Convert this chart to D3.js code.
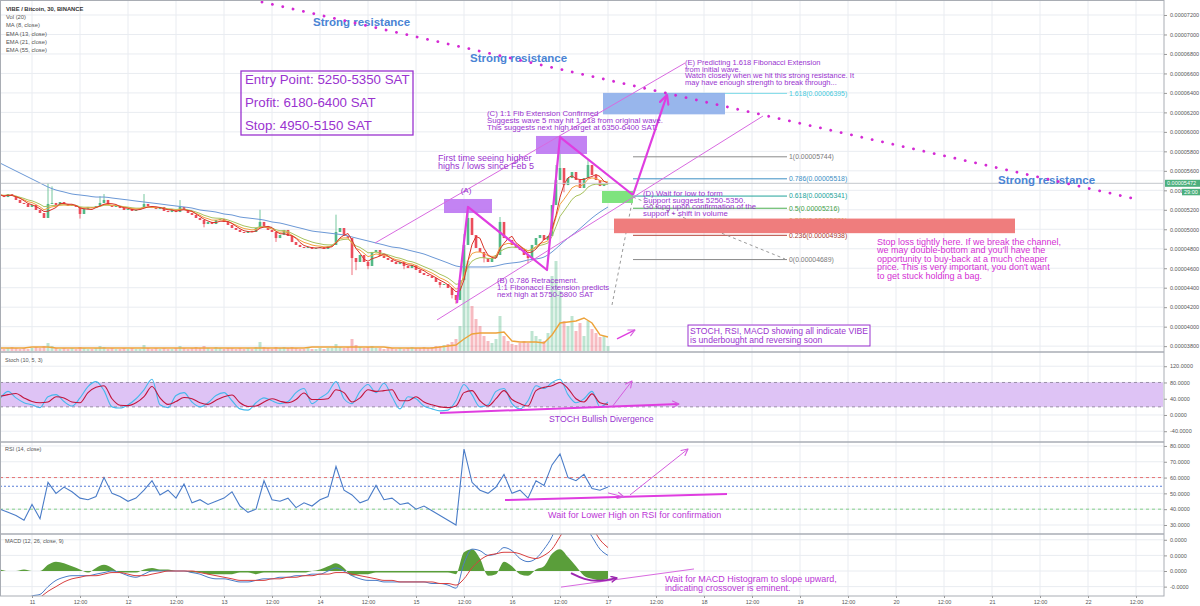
<!DOCTYPE html>
<html>
<head>
<meta charset="utf-8">
<title>VIBE / Bitcoin, 30, BINANCE</title>
<script src="https://cdn.jsdelivr.net/npm/d3@7/dist/d3.min.js"></script>
<style>html,body{margin:0;padding:0;background:#fff}svg{display:block}</style>
</head>
<body>
<svg id="chart" width="1200" height="606"></svg>
<script>
// ================= DATA (prices in satoshi; time in hours from day 11 00:00) =================
const firstHour = -8;
const firstOpen = 5360;
const closes = [
  5352,5331,5362,5342,5301,5270,5260,5229,
  5249,5198,5167,5116,5260,5270,5249,5280,5260,5239,
  5249,5229,5157,5208,5229,5218,5239,5270,5301,5249,
  5229,5239,5218,5198,5208,5188,5198,5218,5260,5239,
  5218,5208,5229,5188,5177,5198,5177,5229,5198,5167,
  5147,5116,5095,5054,5075,5054,5095,5106,5075,5044,
  5013,4993,4972,4962,4982,4972,5013,5075,5034,4993,
  4972,4910,4941,4993,4931,4869,4839,4818,4808,4818,
  4798,4808,4818,4798,4828,4839,4972,5013,4931,4910,
  4705,4664,4736,4664,4623,4767,4787,4726,4705,4685,
  4664,4643,4664,4623,4602,4633,4582,4551,4531,4520,
  4500,4459,4428,4438,4397,4325,4274,4479,4839,5116,
  4941,4808,4767,4705,4664,4705,4736,5075,4910,4890,
  4839,4808,4787,4736,4705,4839,4910,4941,4890,4931,
  5249,5506,5629,5454,5526,5588,5506,5424,5526,5660,
  5557,5506,5444,5465,5472
];
const volumes = [
  3,2,3,4,3,2,3,2,
  3,4,3,5,8,5,3,2,3,2,
  3,2,4,3,2,2,3,5,4,2,
  3,2,2,3,2,3,2,2,6,3,
  2,3,2,3,2,2,3,5,3,2,
  3,4,3,5,3,2,4,3,2,3,
  3,2,3,2,3,2,4,9,4,3,
  2,4,3,4,3,4,3,2,2,3,
  2,2,3,2,3,3,7,4,3,4,
  12,6,4,3,4,5,3,3,2,3,
  3,2,3,2,3,4,3,3,4,3,
  4,5,5,6,7,9,12,25,85,90,
  45,32,25,15,10,8,12,35,15,10,
  7,6,8,10,8,20,15,12,10,18,
  75,90,60,30,25,35,20,28,15,30,
  22,18,14,15,5
];
// [hour, high, low] for the candles whose wicks stand out
const wicks = [
  [4,5475,null],[5,5440,null],[12,null,5110],[17,5340,null],[18,5362,null],[28,5362,null],
  [37,5300,null],[43,null,5020],[57,5200,null],[61,null,4870],[76,5150,null],[80,null,4530],
  [81,null,4580],[84,null,4590],[93,null,4590],[102,null,4400],[105,null,4290],[106,null,4235],
  [108,4950,null],[109,5220,null],[113,null,4660],[117,5126,null],[124,null,4650],
  [131,5660,null],[132,5814,null],[133,null,5380],[139,5711,null]
];
// series sampled every 2 hours from firstHour
const ema55 = [
  5680,5639,5598,5557,5516,5475,5434,5403,5383,5362,
  5352,5342,5331,5331,5321,5311,5301,5290,5280,5270,
  5260,5249,5239,5229,5218,5198,5188,5177,5157,5147,
  5126,5116,5106,5095,5075,5064,5044,5023,5003,4982,
  4972,4962,4952,4941,4921,4900,4880,4859,4839,4818,
  4808,4787,4767,4746,4715,4685,4654,4623,4613,4613,
  4613,4613,4623,4643,4654,4664,4685,4695,4715,4767,
  4839,4910,4972,5044,5116,5177,5229
];
const volMA = [
  3,3,3,3,4,4,4,3,3,3,
  3,3,3,3,3,3,3,3,3,3,
  3,3,3,3,3,3,3,3,3,3,
  3,3,3,3,3,3,3,3,3,4,
  4,4,4,4,4,4,4,4,4,3,
  3,3,3,3,3,4,5,
  6,12,17,18,18,18,19,10,9,9,
  9,8,16,28,29,30,33,28,16,14
];
const stochK = [
  40,58,42,30,25,18,45,50,33,22,
  42,70,82,60,20,17,25,40,62,88,
  25,18,48,55,32,20,30,48,55,35,
  15,12,30,42,35,28,33,55,65,28,
  42,55,82,40,28,58,75,55,78,45,
  15,45,40,22,15,10,12,35,75,50,
  20,25,58,65,28,15,35,72,65,80,
  88,50,30,40,58,20,32
];
const stochD = [
  46,50,53,42,33,30,32,45,42,32,
  30,55,68,72,40,24,23,30,45,70,
  42,26,33,43,40,30,26,36,45,49,
  30,21,22,32,40,34,30,38,54,38,
  38,40,62,55,32,42,62,58,60,62,
  35,35,45,32,25,20,18,22,55,60,
  35,22,40,60,38,28,22,60,68,72,
  80,65,40,32,52,30,26
];
const rsi = [
  40,38,36,33,43,34,57,50,54,51,
  47,46,48,60,50,48,45,47,52,58,
  49,52,47,56,44,46,43,45,47,51,
  42,38,40,58,46,45,47,41,44,42,
  46,48,67,52,49,44,46,55,46,47,
  43,44,40,42,39,36,33,30,78,57,
  52,50,54,62,50,52,47,58,55,68,
  75,60,58,62,53,52,54
];
const macdLine = [
  -30,-28,-25,-20,-16,-15,-10,-6,-4,-3,
  -3,-3,-2,-1,0,-1,-3,-4,-2,0,
  0,0,0,0,-1,-2,-4,-5,-5,-6,
  -7,-7,-6,-5,-5,-4,-4,-3,-3,-2,
  -2,0,2,0,-3,-5,-6,-6,-7,-7,
  -7,-7,-7,-7,-8,-8,-9,-11,5,14,
  13,10,11,15,13,8,6,8,14,22,
  35,40,38,30,22,14,10
];
const macdSignal = [
  -32,-31,-29,-25,-21,-17,-13,-10,-7,-5,
  -4,-3,-3,-2,-1,-1,-2,-3,-3,-2,
  -1,0,0,0,0,-1,-2,-3,-4,-5,
  -6,-6,-6,-6,-5,-5,-4,-4,-3,-3,
  -2,-2,-1,-1,-2,-3,-4,-5,-6,-6,
  -7,-7,-7,-7,-7,-8,-8,-9,-5,2,
  7,10,11,12,12,11,9,8,10,14,
  22,30,34,33,28,20,15
];
const macdHist = [
  1,0,0,1,0,0,4,6,5,3,
  1,-1,2,4,2,-1,-1,-1,1,2,
  1,1,0,0,-1,-1,-2,-2,-2,-2,
  -1,-1,-2,-1,-1,-1,-1,-1,-1,0,
  1,3,5,2,-3,-2,-2,-1,-1,-1,
  -1,-1,-1,-1,-1,-1,-1,-2,12,14,
  8,-3,-2,6,3,-2,-3,1,3,11,
  14,9,3,-3,-5,-6,-5
];
const priceTicks = [3800,4000,4200,4400,4600,4800,5000,5200,5400,5600,5800,6000,6200,6400,6600,6800,7000,7200];
const stochTicks = [-40,0,40,80,120];
const rsiTicks = [30,40,50,60,70,80];
const macdTicks = [-10,0,10,20];
const timeTicks = [0,12,24,36,48,60,72,84,96,108,120,132,144,156,168,180,192,204,216,228,240,252,264,276];
const dayLabels = ["11","12","13","14","15","16","17","18","19","20","21","22"];
const fibRatios = ["1.618","1","0.786","0.618","0.5","0.382","0.236","0"];
const fibPrices = [6395,5744,5518,5341,5216,5091,4938,4689];
const lastPrice = 5472;
const legendLines = ["Vol (20)","MA (8, close)","EMA (13, close)","EMA (21, close)","EMA (55, close)"];

// ================= SCALES =================
const PW = 1163;
const svg = d3.select("#chart");
const x = d3.scaleLinear().domain([-8, 282.75]).range([0, PW]);
const yMain = d3.scaleLinear().domain([3740, 7354]).range([352, 0]);
const yVol = d3.scaleLinear().domain([0, 100]).range([351, 251]);
const yStoch = d3.scaleLinear().domain([-66.5, 155]).range([442, 352]);
const yRsi = d3.scaleLinear().domain([24.3, 82.5]).range([534, 442]);
const yMacd = d3.scaleLinear().domain([-16, 23.7]).range([596, 534]);
const t2 = i => firstHour + 2 * i;

const FONT = "'Liberation Sans', Arial, sans-serif";
const PURPLE = "#9a33cf", MAGENTA = "#d42fd4", PINKTXT = "#bb36d6", LINEMAG = "#df3de0";
const UP = "#53b987", DOWN = "#eb4d5c";

const defs = svg.append("defs");
[["clipMain",0,352],["clipStoch",352,442],["clipRsi",442,534],["clipMacd",534,596]].forEach(([id,a,b]) =>
  defs.append("clipPath").attr("id", id).append("rect").attr("x",0).attr("y",a).attr("width",PW).attr("height",b-a));
function marker(id, color, size, sw){
  defs.append("marker").attr("id", id).attr("viewBox","0 0 10 10").attr("refX",9).attr("refY",5)
    .attr("markerWidth",size).attr("markerHeight",size).attr("markerUnits","userSpaceOnUse").attr("orient","auto")
    .append("path").attr("d","M1,1 L9,5 L1,9").attr("fill","none").attr("stroke",color)
    .attr("stroke-width",sw).attr("stroke-linecap","round").attr("stroke-linejoin","round");
}
marker("arrBig", LINEMAG, 11, 2);
marker("arrThin", "#d45ede", 8, 1.4);
marker("arrPurple", "#9c27b0", 7, 2);

// ================= GRID =================
const grid = svg.append("g").attr("stroke","#e9ecf1").attr("stroke-width",1);
timeTicks.forEach(t => grid.append("line").attr("x1",x(t)).attr("x2",x(t)).attr("y1",0).attr("y2",596));
[[yMain,priceTicks],[yStoch,stochTicks],[yRsi,rsiTicks],[yMacd,macdTicks]].forEach(([s,ticks]) =>
  ticks.forEach(v => grid.append("line").attr("x1",0).attr("x2",PW).attr("y1",s(v)).attr("y2",s(v))));

// ================= MAIN PANEL =================
const gMain = svg.append("g").attr("clip-path","url(#clipMain)");
const candles = closes.map((c,i) => {
  const o = i === 0 ? firstOpen : closes[i-1];
  const t = firstHour + i;
  const w = wicks.find(d => d[0] === t);
  const h = Math.max(o, c, w && w[1] != null ? w[1] : 0);
  const l = Math.min(o, c, w && w[2] != null ? w[2] : Infinity);
  return {t, o, c, h, l, v: volumes[i]};
});
// volume
gMain.append("g").selectAll("rect").data(candles).join("rect")
  .attr("x", d => x(d.t) - 1.5).attr("width", 3)
  .attr("y", d => yVol(d.v)).attr("height", d => yVol(0) - yVol(d.v))
  .attr("fill", d => d.c >= d.o ? UP : DOWN).attr("opacity", 0.38);
gMain.append("path").datum(volMA).attr("fill","none").attr("stroke","#eda33b").attr("stroke-width",1.4)
  .attr("d", d3.line().x((d,i)=>x(t2(i))).y(d=>yVol(d)));
// candles
const gC = gMain.append("g");
gC.selectAll("line").data(candles).join("line")
  .attr("x1", d => x(d.t)).attr("x2", d => x(d.t)).attr("y1", d => yMain(d.h)).attr("y2", d => yMain(d.l))
  .attr("stroke", d => d.c >= d.o ? UP : DOWN).attr("stroke-width", 0.8);
gC.selectAll("rect").data(candles).join("rect")
  .attr("x", d => x(d.t) - 1.3).attr("width", 2.6)
  .attr("y", d => yMain(Math.max(d.o,d.c))).attr("height", d => Math.max(0.8, Math.abs(yMain(d.o)-yMain(d.c))))
  .attr("fill", d => d.c >= d.o ? UP : DOWN);
// moving averages
function sma(a,n){ return a.map((_,i) => d3.mean(a.slice(Math.max(0,i-n+1), i+1))); }
function ema(a,n){ const k = 2/(n+1); let e = a[0]; return a.map(v => (e = e + k*(v-e))); }
const hourLine = d3.line().x((d,i)=>x(firstHour+i)).y(d=>yMain(d));
gMain.append("path").datum(ema55).attr("fill","none").attr("stroke","#6b98d6").attr("stroke-width",1)
  .attr("d", d3.line().x((d,i)=>x(t2(i))).y(d=>yMain(d)).curve(d3.curveMonotoneX));
[[ema(closes,10.5),"#a8c25e"],[ema(closes,6.5),"#f2a040"],[sma(closes,4),"#d9342b"]].forEach(([s,col]) =>
  gMain.append("path").datum(s).attr("fill","none").attr("stroke",col).attr("stroke-width",1).attr("d",hourLine));
// current price line
gMain.append("line").attr("x1",0).attr("x2",PW).attr("y1",yMain(lastPrice)).attr("y2",yMain(lastPrice))
  .attr("stroke","#c4c7cc").attr("stroke-width",1);

// ---- annotations (data coordinates) ----
const gA = svg.append("g").attr("clip-path","url(#clipMain)");
const P = (t,p) => [x(t), yMain(p)];
const fibColors = ["#7fdbe8","#8a8a8a","#3d8fc4","#22a39a","#4caf50","#c9b23a","#b5453b","#8a8a8a"];
const fibLabelColors = ["#46c9dc","#7a7a7a","#3d8fc4","#22a39a","#43a047","#c9b23a","#a5382f","#7a7a7a"];
fibPrices.forEach((p,i) => {
  gA.append("line").attr("x1",x(150.25)).attr("x2",x(188.75)).attr("y1",yMain(p)).attr("y2",yMain(p))
    .attr("stroke",fibColors[i]).attr("stroke-width",1);
  gA.append("text").attr("x",x(189.25)).attr("y",yMain(p)+2.3).attr("font-family",FONT).attr("font-size",6.9)
    .attr("fill",fibLabelColors[i]).text(`${fibRatios[i]}(${(p/1e8).toFixed(8)})`);
});
const straight = d3.line();
gA.append("path").attr("d", straight([P(145,4223),P(150.25,5331)])).attr("stroke","#9a9a9a").attr("stroke-dasharray","3,3").attr("fill","none");
gA.append("path").attr("d", straight([P(150.25,5331),P(188.25,4695)])).attr("stroke","#9a9a9a").attr("stroke-dasharray","3,3").attr("fill","none");
// boxes
function box(t0,t1,p0,p1,fill,op){
  gA.append("rect").attr("x",x(t0)).attr("width",x(t1)-x(t0)).attr("y",yMain(p1)).attr("height",yMain(p0)-yMain(p1))
    .attr("fill",fill).attr("opacity",op);
}
box(103,115,5167,5311,"#bd76f2",0.9);
box(126,138.75,5773,5958,"#bd76f2",0.9);
box(142.75,173.25,6180,6400,"#8fb0ea",0.92);
box(142.5,150.25,5270,5393,"#7ee37e",1);
box(145.5,245.75,4960,5110,"#ef7d7d",1);
// channel lines
gA.append("path").attr("d", straight([P(85.75,4859),P(163.25,6707)])).attr("stroke","#d86ae0").attr("stroke-width",1).attr("fill","none");
gA.append("path").attr("d", straight([P(101.25,4069),P(182.75,6163)])).attr("stroke","#d86ae0").attr("stroke-width",1).attr("fill","none");
// wave zig-zag
gA.append("path").attr("d", straight([P(106.25,4243),P(109,5229),P(128.75,4582),P(132,5947),P(150.25,5352)]))
  .attr("stroke",LINEMAG).attr("stroke-width",2.2).attr("fill","none").attr("stroke-linejoin","round");
gA.append("path").attr("d", straight([P(150.25,5352),P(158.75,6379)]))
  .attr("stroke",LINEMAG).attr("stroke-width",2.2).attr("fill","none").attr("marker-end","url(#arrBig)");
gA.append("path").attr("d", straight([P(146.25,3874),P(150.75,3966)]))
  .attr("stroke",LINEMAG).attr("stroke-width",1.4).attr("fill","none").attr("marker-end","url(#arrThin)");

// texts
function textBlock(g, lines, px, py, lineH, size, color, opts={}){
  const t = g.append("text").attr("font-family",FONT).attr("font-size",size).attr("fill",color)
    .attr("font-weight", opts.bold ? "bold" : null).attr("text-anchor", opts.anchor || "start");
  lines.forEach((ln,i) => t.append("tspan").attr("x",px).attr("y",py + i*lineH).text(ln));
}
const sr = [[70.25,7087],[109.5,6717],[241.5,5465]];
sr.forEach(([t,p]) => textBlock(gA, ["Strong resistance"], x(t), yMain(p), 0, 11.5, "#4a84d4", {bold:true}));
// entry box
gA.append("rect").attr("x",x(52.25)).attr("width",x(95.25)-x(52.25)).attr("y",yMain(6625)).attr("height",yMain(5968)-yMain(6625))
  .attr("fill","none").attr("stroke",PURPLE).attr("stroke-width",1.3);
textBlock(gA, ["Entry Point: 5250-5350 SAT","Profit: 6180-6400 SAT","Stop: 4950-5150 SAT"], x(53.25), yMain(6492), 23, 13.3, PURPLE);
textBlock(gA, ["(A)"], x(108.5), yMain(5373), 0, 8, PURPLE, {anchor:"middle"});
textBlock(gA, ["First time seeing higher","highs / lows since Feb 5"], x(101.5), yMain(5701), 8, 9, PURPLE);
textBlock(gA, ["(C) 1:1 Fib Extension Confirmed","Suggests wave 5 may hit 1.618 from original wave.","This suggests next high target at 6350-6400 SAT."], x(113.75), yMain(6163), 7, 7.8, PURPLE);
textBlock(gA, ["(E) Predicting 1.618 Fibonacci Extension","from initial wave.","Watch closely when we hit this strong resistance. It","may have enough strength to break through..."], x(163.25), yMain(6687), 6.7, 7.5, PURPLE);
textBlock(gA, ["(B) 0.786 Retracement.","1:1 Fibonacci Extension predicts","next high at 5750-5800 SAT"], x(116.25), yMain(4448), 7, 7.8, PURPLE);
textBlock(gA, ["(D) Wait for low to form","Support suggests 5250-5350.","Go long upon confirmation of the","support + shift in volume"], x(152.75), yMain(5342), 6.7, 7.8, PURPLE);
textBlock(gA, ["Stop loss tightly here. If we break the channel,","we may double-bottom and you'll have the","opportunity to buy-back at a much cheaper","price. This is very important, you don't want","to get stuck holding a bag."], x(211.25), yMain(4839), 8.5, 9, MAGENTA);
gA.append("rect").attr("x",x(164)).attr("width",x(209.5)-x(164)).attr("y",yMain(4017)).attr("height",yMain(3802)-yMain(4017))
  .attr("fill","#fff").attr("stroke",PURPLE).attr("stroke-width",1);
textBlock(gA, ["STOCH, RSI, MACD showing all indicate VIBE","is underbought and reversing soon"], x(164.5), yMain(3925), 9.5, 8.6, PURPLE);
// strong resistance dotted line
gA.append("path").attr("d", straight([P(57.5,7333),P(277,5301)]))
  .attr("stroke","#d42ad4").attr("stroke-width",2.8).attr("stroke-linecap","round").attr("stroke-dasharray","0.1 10.5").attr("fill","none");

// ================= STOCH =================
svg.append("rect").attr("x",0).attr("width",PW).attr("y",yStoch(80)).attr("height",yStoch(20)-yStoch(80)).attr("fill","#dec3f5");
[80,20].forEach(v => svg.append("line").attr("x1",0).attr("x2",PW).attr("y1",yStoch(v)).attr("y2",yStoch(v))
  .attr("stroke","#9a8fa8").attr("stroke-dasharray","3,3"));
const gS = svg.append("g").attr("clip-path","url(#clipStoch)");
gS.append("path").datum(stochK).attr("fill","none").attr("stroke","#45b8ec").attr("stroke-width",1.1)
  .attr("d", d3.line().x((d,i)=>x(t2(i))).y(d=>yStoch(d)).curve(d3.curveMonotoneX));
gS.append("path").datum(stochD).attr("fill","none").attr("stroke","#c2143c").attr("stroke-width",1.1)
  .attr("d", d3.line().x((d,i)=>x(t2(i))).y(d=>yStoch(d)).curve(d3.curveMonotoneX));
const PS = (t,v) => [x(t), yStoch(v)];
gS.append("path").attr("d", straight([PS(102,4.9),PS(161.75,27.1)])).attr("stroke",LINEMAG).attr("stroke-width",2).attr("fill","none").attr("marker-end","url(#arrThin)");
gS.append("path").attr("d", straight([PS(145,19.7),PS(150,83.7)])).attr("stroke","#d45ede").attr("stroke-width",1).attr("fill","none").attr("marker-end","url(#arrThin)");
textBlock(gS, ["STOCH Bullish Divergence"], x(129.25), yStoch(-17.2), 0, 8.7, PURPLE);

// ================= RSI =================
[[60,"#e57373","3,3"],[54.5,"#5a7fd8","2,2"],[40,"#86d08a","3,3"]].forEach(([v,c,da]) =>
  svg.append("line").attr("x1",0).attr("x2",PW).attr("y1",yRsi(v)).attr("y2",yRsi(v)).attr("stroke",c).attr("stroke-dasharray",da));
const gR = svg.append("g").attr("clip-path","url(#clipRsi)");
gR.append("path").datum(rsi).attr("fill","none").attr("stroke","#4a7cc8").attr("stroke-width",1.1)
  .attr("d", d3.line().x((d,i)=>x(t2(i))).y(d=>yRsi(d)));
const PR = (t,v) => [x(t), yRsi(v)];
gR.append("path").attr("d", straight([PR(118.25,45.8),PR(173.75,49.6)])).attr("stroke",LINEMAG).attr("stroke-width",2).attr("fill","none");
gR.append("path").attr("d", straight([PR(144,50.3),PR(148,47.7)])).attr("stroke","#d45ede").attr("stroke-width",1).attr("fill","none").attr("marker-end","url(#arrThin)");
gR.append("path").attr("d", straight([PR(149.5,49),PR(164,78.1)])).attr("stroke","#d45ede").attr("stroke-width",1).attr("fill","none").attr("marker-end","url(#arrThin)");
textBlock(gR, ["Wait for Lower High on RSI for confirmation"], x(129), yRsi(34.4), 0, 9, PINKTXT);

// ================= MACD =================
const gM = svg.append("g").attr("clip-path","url(#clipMacd)");
gM.append("path").datum(macdHist).attr("fill","#5a9e3a")
  .attr("d", d3.area().x((d,i)=>x(t2(i))).y0(yMacd(0)).y1(d=>yMacd(d)).curve(d3.curveMonotoneX));
gM.append("path").datum(macdLine).attr("fill","none").attr("stroke","#4a7cc8").attr("stroke-width",1)
  .attr("d", d3.line().x((d,i)=>x(t2(i))).y(d=>yMacd(d)).curve(d3.curveMonotoneX));
gM.append("path").datum(macdSignal).attr("fill","none").attr("stroke","#d84040").attr("stroke-width",1)
  .attr("d", d3.line().x((d,i)=>x(t2(i))).y(d=>yMacd(d)).curve(d3.curveMonotoneX));
const PM = (t,v) => [x(t), yMacd(v)];
gM.append("path").attr("d", straight([PM(132.25,-10.3),PM(165.5,1.3)])).attr("stroke","#d86ae0").attr("stroke-width",1).attr("fill","none");
gM.append("path").attr("d", d3.line().curve(d3.curveBasis)([PM(134.75,-1.3),PM(138,-5.5),PM(142,-6.8),PM(146.25,-4.5)]))
  .attr("stroke","#9c27b0").attr("stroke-width",2).attr("fill","none").attr("marker-end","url(#arrPurple)");
textBlock(gM, ["Wait for MACD Histogram to slope upward,","indicating crossover is eminent."], x(158.25), yMacd(-7.05), 9, 9, PINKTXT);

// ================= FRAMES & AXES =================
[352,442,534].forEach(y => svg.append("line").attr("x1",0).attr("x2",1164).attr("y1",y).attr("y2",y).attr("stroke","#a9adb4").attr("stroke-width",1.3));
svg.append("rect").attr("x",0.5).attr("y",0.5).attr("width",1163.5).attr("height",595.5).attr("fill","none").attr("stroke","#a9adb4").attr("stroke-width",1);

function rightAxis(scale, ticks, fmt){
  const g = svg.append("g").attr("transform",`translate(1164,0)`)
    .call(d3.axisRight(scale).tickValues(ticks).tickFormat(fmt).tickSize(3).tickPadding(3));
  g.select(".domain").remove();
  g.selectAll("line").attr("stroke","#999");
  g.selectAll("text").attr("font-family",FONT).attr("font-size",5.5).attr("fill","#555");
}
rightAxis(yMain, priceTicks, v => (v/1e8).toFixed(8));
rightAxis(yStoch, stochTicks, v => v.toFixed(4));
rightAxis(yRsi, rsiTicks, v => v.toFixed(4));
rightAxis(yMacd, macdTicks, v => (v/1e8).toFixed(4));

const gx = svg.append("g").attr("transform","translate(0,596)")
  .call(d3.axisBottom(x).tickValues(timeTicks).tickFormat(t => t % 24 === 0 ? dayLabels[t/24] : "12:00").tickSize(2).tickPadding(2));
gx.select(".domain").remove();
gx.selectAll("line").attr("stroke","#999");
gx.selectAll("text").attr("font-family",FONT).attr("font-size",5.5).attr("fill","#555");

// last price tag
const yl = yMain(lastPrice);
svg.append("rect").attr("x",1165).attr("y",yl-3.5).attr("width",35).attr("height",7).attr("fill","#4caf7d");
svg.append("text").attr("x",1167).attr("y",yl+2).attr("font-family",FONT).attr("font-size",5.5).attr("fill","#fff").text((lastPrice/1e8).toFixed(8));
svg.append("rect").attr("x",1182).attr("y",yl+5.5).attr("width",18).attr("height",6.5).attr("fill","#4caf7d");
svg.append("text").attr("x",1184).attr("y",yl+10.7).attr("font-family",FONT).attr("font-size",5.5).attr("fill","#fff").text("29:00");

// legend & pane titles
svg.append("text").attr("x",6).attr("y",10.7).attr("font-family",FONT).attr("font-size",5.8).attr("font-weight","bold").attr("fill","#333").text("VIBE / Bitcoin, 30, BINANCE");
legendLines.forEach((s,i) => svg.append("text").attr("x",6).attr("y",18.7 + i*8.4).attr("font-family",FONT).attr("font-size",5.8).attr("fill","#555").text(s));
[["Stoch (10, 5, 3)",362],["RSI (14, close)",451],["MACD (12, 26, close, 9)",543]].forEach(([s,y]) =>
  svg.append("text").attr("x",5).attr("y",y).attr("font-family",FONT).attr("font-size",5.5).attr("fill","#555").text(s));
</script>
</body>
</html>
